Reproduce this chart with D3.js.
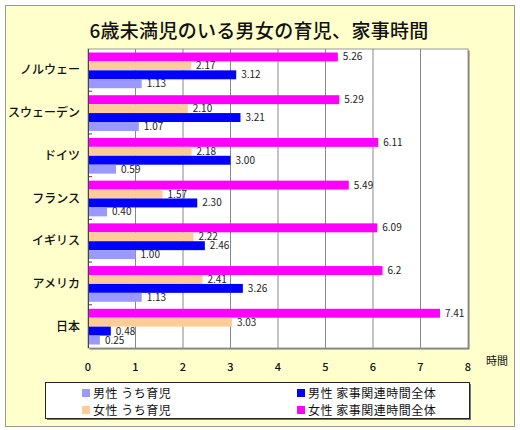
<!DOCTYPE html>
<html>
<head>
<meta charset="utf-8">
<script src="https://cdn.jsdelivr.net/npm/d3@7"></script>
<style>
  body { margin: 0; background: #fff; }
  text { font-family: "Noto Sans CJK JP", "Noto Sans", sans-serif; }
</style>
</head>
<body>
<svg id="chart" width="520" height="430"></svg>
<script>
// data (hours)
const countries = ["ノルウェー", "スウェーデン", "ドイツ", "フランス", "イギリス", "アメリカ", "日本"]
const femaleTotal = [5.26, 5.29, 6.11, 5.49, 6.09, 6.2, 7.41]
const femaleCare = [2.17, 2.10, 2.18, 1.57, 2.22, 2.41, 3.03]
const maleTotal = [3.12, 3.21, 3.00, 2.30, 2.46, 3.26, 0.48]
const maleCare = [1.13, 1.07, 0.59, 0.40, 1.00, 1.13, 0.25]
const labelFmt = [
  ["5.26", "5.29", "6.11", "5.49", "6.09", "6.2", "7.41"],
  ["2.17", "2.10", "2.18", "1.57", "2.22", "2.41", "3.03"],
  ["3.12", "3.21", "3.00", "2.30", "2.46", "3.26", "0.48"],
  ["1.13", "1.07", "0.59", "0.40", "1.00", "1.13", "0.25"]
]
const xTicks = [0, 1, 2, 3, 4, 5, 6, 7, 8]

const series = [
  { name: "女性 家事関連時間全体", values: femaleTotal, color: "#ff00ff" },
  { name: "女性 うち育児", values: femaleCare, color: "#ffcc99" },
  { name: "男性 家事関連時間全体", values: maleTotal, color: "#0000ff" },
  { name: "男性 うち育児", values: maleCare, color: "#9999ff" }
]

const svg = d3.select("#chart")

// outer frame
svg.append("rect")
  .attr("x", 5.5).attr("y", 5.5)
  .attr("width", 509).attr("height", 421)
  .attr("fill", "#ffffcc")
  .attr("stroke", "#999").attr("stroke-width", 1)

svg.append("text")
  .attr("x", 259).attr("y", 38)
  .attr("text-anchor", "middle")
  .attr("font-size", 19).attr("font-weight", 500)
  .attr("letter-spacing", 0.3)
  .attr("fill", "#111")
  .text("6歳未満児のいる男女の育児、家事時間")

const plot = { left: 88, right: 468, top: 49, bottom: 348 }

const x = d3.scaleLinear().domain([0, 8]).range([plot.left, plot.right])
const y = d3.scaleBand().domain(countries).range([plot.top, plot.bottom])
const sub = d3.scaleBand().domain(series.map(s => s.name))
  .range([3.5, y.bandwidth() - 3.5])

// plot background + shadow
svg.append("rect")
  .attr("x", plot.left + 1.5).attr("y", plot.top + 1.5)
  .attr("width", plot.right - plot.left).attr("height", plot.bottom - plot.top)
  .attr("fill", "#777")
svg.append("rect")
  .attr("x", plot.left).attr("y", plot.top)
  .attr("width", plot.right - plot.left).attr("height", plot.bottom - plot.top)
  .attr("fill", "#fff").attr("stroke", "#999")

// grid
svg.append("g")
  .selectAll("line")
  .data(xTicks.slice(1, -1))
  .join("line")
  .attr("x1", d => x(d)).attr("x2", d => x(d))
  .attr("y1", plot.top).attr("y2", plot.bottom)
  .attr("stroke", "#888").attr("stroke-width", 1)

// bars
const rows = svg.append("g")
  .selectAll("g")
  .data(countries)
  .join("g")
  .attr("transform", d => `translate(0,${y(d)})`)

series.forEach((s, si) => {
  rows.append("rect")
    .attr("x", x(0))
    .attr("y", sub(s.name))
    .attr("width", (d, i) => x(s.values[i]) - x(0))
    .attr("height", sub.bandwidth())
    .attr("fill", s.color)
})

series.forEach((s, si) => {
  rows.append("text")
    .attr("x", (d, i) => x(s.values[i]) + 5)
    .attr("y", sub(s.name) + sub.bandwidth() / 2 + 3.5)
    .attr("font-size", 10)
    .attr("fill", "#222")
    .text((d, i) => labelFmt[si][i])
})

// left axis line and ticks
svg.append("line")
  .attr("x1", plot.left + 0.5).attr("x2", plot.left + 0.5)
  .attr("y1", plot.top).attr("y2", plot.bottom)
  .attr("stroke", "#444")
svg.append("g")
  .selectAll("line")
  .data(countries.slice(1))
  .join("line")
  .attr("x1", plot.left).attr("x2", plot.left + 4)
  .attr("y1", d => y(d) - 0.5).attr("y2", d => y(d) - 0.5)
  .attr("stroke", "#444")

// category labels
svg.append("g")
  .selectAll("text")
  .data(countries)
  .join("text")
  .attr("x", 80)
  .attr("y", d => y(d) + y.bandwidth() / 2 + 4)
  .attr("text-anchor", "end")
  .attr("font-size", 12).attr("font-weight", 500)
  .attr("fill", "#111")
  .text(d => d)

// x tick labels
svg.append("g")
  .selectAll("text")
  .data(xTicks)
  .join("text")
  .attr("x", d => x(d))
  .attr("y", 371)
  .attr("text-anchor", "middle")
  .attr("font-size", 11).attr("font-weight", 500)
  .attr("fill", "#111")
  .text(d => d)

svg.append("text")
  .attr("x", 486).attr("y", 365)
  .attr("font-size", 11)
  .attr("fill", "#111")
  .text("時間")

// legend
svg.append("rect")
  .attr("x", 47).attr("y", 384)
  .attr("width", 424).attr("height", 36)
  .attr("fill", "#777")
svg.append("rect")
  .attr("x", 45.5).attr("y", 382.5)
  .attr("width", 424).attr("height", 36)
  .attr("fill", "#fff").attr("stroke", "#222")

const legendItems = [series[3], series[2], series[1], series[0]]
const lg = svg.append("g")
  .selectAll("g")
  .data(legendItems)
  .join("g")
  .attr("transform", (d, i) => `translate(${i % 2 ? 297 : 82},${i < 2 ? 389 : 406})`)
lg.append("rect")
  .attr("width", 8).attr("height", 8)
  .attr("fill", d => d.color)
lg.append("text")
  .attr("x", 11).attr("y", 9)
  .attr("font-size", 12)
  .attr("letter-spacing", 0.5)
  .attr("fill", "#111")
  .text(d => d.name)
</script>
</body>
</html>
